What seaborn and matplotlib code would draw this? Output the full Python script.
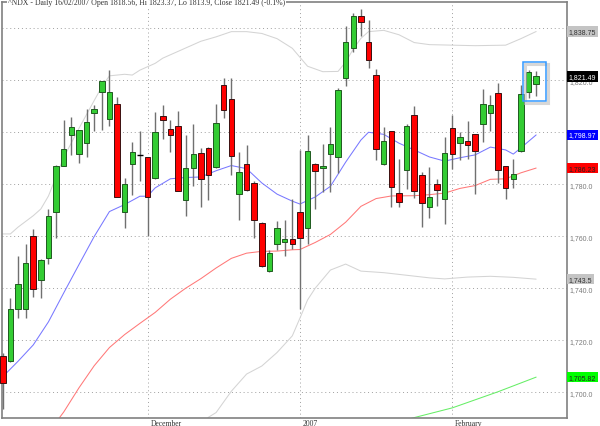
import numpy as np
import matplotlib
matplotlib.use("Agg")
import matplotlib.pyplot as plt
import matplotlib.transforms as mtransforms
from matplotlib.patches import Rectangle
from matplotlib.ticker import FuncFormatter
import seaborn as sns

# ---------------- data ----------------
opens = [1714.0, 1711.9, 1731.9, 1732.2, 1760.0, 1743.0, 1751.5, 1769.2, 1787.2, 1798.8,
         1791.6, 1795.7, 1807.3, 1815.5, 1805.2, 1810.9, 1769.2, 1787.7, 1791.3, 1790.3,
         1782.3, 1806.2, 1801.1, 1802.4, 1773.9, 1786.2, 1792.1, 1793.9, 1786.5, 1818.1,
         1812.9, 1776.4, 1787.7, 1780.3, 1765.1, 1746.6, 1756.9, 1757.7, 1759.0, 1769.3,
         1763.1, 1787.8, 1786.3, 1791.7, 1790.4, 1821.0, 1832.3, 1844.9, 1834.9, 1822.0,
         1787.8, 1800.4, 1776.8, 1785.5, 1806.8, 1783.4, 1771.1, 1780.0, 1774.4, 1801.6,
         1796.0, 1796.5, 1799.3, 1803.2, 1807.3, 1815.2, 1787.0, 1782.1, 1792.9, 1815.5,
         1818.56]
highs = [1715.0, 1736.1, 1752.5, 1756.9, 1762.8, 1751.2, 1770.3, 1787.5, 1804.7, 1805.7,
         1800.8, 1808.8, 1810.6, 1819.9, 1824.0, 1813.7, 1782.6, 1796.4, 1800.3, 1790.5,
         1807.8, 1810.6, 1804.7, 1808.0, 1799.0, 1803.2, 1793.9, 1794.2, 1810.9, 1820.9,
         1820.9, 1792.4, 1795.2, 1781.3, 1765.6, 1754.6, 1765.9, 1766.1, 1774.4, 1793.0,
         1798.9, 1788.0, 1795.3, 1802.2, 1817.1, 1840.8, 1845.7, 1847.5, 1843.1, 1824.3,
         1802.2, 1800.6, 1789.9, 1803.2, 1810.2, 1784.7, 1786.8, 1782.1, 1798.3, 1806.5,
         1800.1, 1804.4, 1799.5, 1816.5, 1814.2, 1819.1, 1787.2, 1789.8, 1818.3, 1824.0,
         1823.37]
lows = [1693.4, 1711.5, 1728.4, 1728.4, 1736.6, 1736.3, 1749.4, 1759.2, 1787.0, 1791.1,
        1788.3, 1790.6, 1800.3, 1800.8, 1802.6, 1775.1, 1763.3, 1775.9, 1781.3, 1760.0,
        1782.0, 1797.5, 1792.4, 1777.3, 1767.9, 1779.5, 1771.3, 1774.1, 1786.3, 1805.5,
        1783.4, 1766.4, 1777.5, 1759.2, 1748.2, 1746.4, 1754.8, 1752.6, 1755.2, 1732.0,
        1757.0, 1770.6, 1777.0, 1777.0, 1784.5, 1817.9, 1830.7, 1837.2, 1824.8, 1789.4,
        1787.6, 1771.4, 1771.4, 1778.3, 1774.7, 1763.4, 1767.2, 1771.8, 1764.6, 1785.7,
        1789.3, 1789.8, 1776.4, 1796.2, 1800.6, 1780.5, 1774.4, 1778.7, 1792.4, 1813.2,
        1813.9]
closes = [1703.7, 1732.2, 1741.5, 1749.7, 1739.9, 1750.7, 1767.7, 1787.2, 1793.6, 1801.9,
          1800.8, 1803.9, 1809.1, 1819.9, 1815.5, 1775.1, 1780.0, 1792.6, 1791.3, 1775.1,
          1800.1, 1804.7, 1799.0, 1777.5, 1786.2, 1791.6, 1782.1, 1783.4, 1803.4, 1808.6,
          1790.8, 1784.9, 1777.7, 1766.1, 1748.4, 1753.5, 1763.1, 1758.9, 1757.0, 1759.3,
          1792.7, 1785.2, 1787.0, 1795.5, 1816.3, 1834.9, 1844.9, 1842.6, 1827.7, 1793.7,
          1796.6, 1779.1, 1773.2, 1802.5, 1777.5, 1772.9, 1775.2, 1777.7, 1792.1, 1791.6,
          1798.0, 1795.2, 1792.9, 1810.9, 1810.4, 1785.4, 1778.5, 1783.9, 1814.7, 1823.2,
          1821.49]

# month tick positions (trading-day index) and labels
month_idx = [19, 39, 59]
month_labels = ["December", "2007", "February"]

# indicator lines (trading-day index, value)
blue_idx = [0, 2, 4, 6, 8, 10, 12, 14, 16, 18, 19, 20, 22, 24, 26, 28, 30, 32, 34, 36, 38, 39,
            41, 43, 45, 47, 48, 50, 52, 54, 56, 58, 60, 62, 64, 66, 67, 68, 70]
blue_val = [1706.0, 1711.9, 1718.2, 1727.1, 1738.2, 1749.1, 1759.9, 1769.5, 1772.2, 1775.4,
            1775.4, 1778.6, 1782.1, 1782.6, 1782.8, 1785.2, 1787.2, 1786.0, 1780.5, 1776.2,
            1773.5, 1772.4, 1775.1, 1779.2, 1788.5, 1797.0, 1800.0, 1799.2, 1795.8, 1793.2,
            1790.5, 1788.9, 1790.2, 1791.3, 1794.3, 1793.2, 1791.6, 1794.0, 1798.97]

red_idx = [7, 8, 10, 12, 14, 16, 18, 20, 22, 24, 26, 28, 30, 32, 34, 36, 38, 39, 41, 43, 45,
           47, 49, 51, 54, 56, 58, 60, 62, 64, 66, 68, 70]
red_val = [1688.5, 1692.4, 1701.7, 1710.2, 1717.2, 1722.2, 1726.5, 1730.7, 1735.8, 1740.0,
           1743.7, 1747.8, 1751.5, 1753.5, 1754.2, 1754.3, 1754.8, 1754.9, 1757.6, 1760.7,
           1765.4, 1771.5, 1774.5, 1775.5, 1775.6, 1776.0, 1776.6, 1778.4, 1779.5, 1781.9,
           1782.1, 1784.4, 1786.23]

upper_idx = [0, 1, 2, 4, 5, 6, 8, 10, 12, 13, 14, 16, 17, 18, 20, 21, 26, 28, 30, 32, 34, 36,
             38, 40, 42, 44, 45, 46, 47, 48, 50, 52, 54, 56, 62, 66, 68, 70]
upper_val = [1760.9, 1760.9, 1763.5, 1767.9, 1770.5, 1775.5, 1790.3, 1801.5, 1812.2, 1817.5,
             1821.7, 1822.3, 1822.0, 1823.9, 1826.5, 1828.5, 1835.0, 1836.7, 1838.7, 1838.7,
             1838.0, 1836.0, 1832.3, 1825.4, 1823.3, 1823.4, 1827.0, 1832.0, 1836.1, 1838.7,
             1839.2, 1837.5, 1834.5, 1833.7, 1833.3, 1833.5, 1836.0, 1838.75]

lower_idx = [26, 27, 28, 30, 32, 34, 36, 38, 39, 40, 41, 43, 45, 47, 50, 53, 56, 58, 61, 64,
             67, 70]
lower_val = [1687.0, 1690.4, 1692.2, 1700.4, 1707.0, 1710.1, 1715.3, 1721.7, 1728.5, 1735.5,
             1740.0, 1747.0, 1749.3, 1746.6, 1746.0, 1745.0, 1744.0, 1743.6, 1744.3, 1744.6,
             1744.2, 1743.5]

green_idx = [53, 55, 59, 65, 70]
green_val = [1689.5, 1691.0, 1694.0, 1700.2, 1705.82]

title = "^NDX - Daily 16/02/2007 Open 1818.56, Hi 1823.37, Lo 1813.9, Close 1821.49 (-0.1%)"

# ---------------- plotting ----------------
sns.set_theme(style="white")
plt.rcParams["font.family"] = ["Liberation Sans", "DejaVu Sans"]

fig = plt.figure(figsize=(6, 4.27), dpi=100)
ax = fig.add_axes([2 / 600, 8 / 427, 565 / 600, 416 / 427])
ax.set_facecolor("white")

o = np.array(opens); h = np.array(highs); l = np.array(lows); c = np.array(closes)
idx = np.arange(len(o))

# indicator lines
line_specs = [
    (upper_idx, upper_val, "#d4d4d4"),
    (lower_idx, lower_val, "#d4d4d4"),
    (green_idx, green_val, "#66ee66"),
    (red_idx, red_val, "#ff7878"),
    (blue_idx, blue_val, "#7878ff"),
]
for xs, ys, col in line_specs:
    sns.lineplot(x=xs, y=ys, ax=ax, color=col, linewidth=0.75, zorder=1.5)

# wicks
ax.vlines(idx, l, h, color="#707070", linewidth=1.0, zorder=2, clip_on=False)
# bodies
up = c > o
down = c < o
flat = c == o
bottoms = np.minimum(o, c)
heights = np.abs(c - o)
ax.bar(idx[up], heights[up], bottom=bottoms[up], width=0.72, color="#33cc33",
       edgecolor="#1f5a1f", linewidth=0.7, zorder=3, clip_on=False)
ax.bar(idx[down], heights[down], bottom=bottoms[down], width=0.72, color="#ff0000",
       edgecolor="#3a1010", linewidth=0.7, zorder=3, clip_on=False)
ax.hlines(c[flat], idx[flat] - 0.36, idx[flat] + 0.36, color="black", linewidth=1.0, zorder=3)

# highlight box around the last two sessions
x0 = idx[-2] - 0.75
x1 = idx[-1] + 1.25
y0 = min(l[-2:]) - 1.0
y1 = max(h[-2:]) + 3.2
ax.add_patch(Rectangle((x0 + 0.35, y0 - 1.0), x1 - x0, y1 - y0, fill=False,
                       edgecolor="#bdbdbd", linewidth=2.2, alpha=0.6, zorder=3.5))
ax.add_patch(Rectangle((x0, y0), x1 - x0, y1 - y0, fill=False,
                       edgecolor="#3399ff", linewidth=1.1, zorder=4))

# axes limits
ax.set_xlim(-0.1, 74.05)
ax.set_ylim(1690.1, 1850.1)

# y axis on the right
ax.yaxis.tick_right()
ax.set_yticks(np.arange(1700, 1841, 20))
ax.yaxis.set_major_formatter(FuncFormatter(lambda v, p: f"{v:,.1f}"))
ax.tick_params(axis="y", length=0, pad=1.5, labelsize=5, labelcolor="#7a7a7a")

# x axis month ticks
ax.set_xticks(month_idx)
ax.set_xticklabels(month_labels, fontsize=5.5, family="Liberation Serif", color="#333333", ha="left")
ax.tick_params(axis="x", length=3, width=0.8, color="#808080", direction="out", pad=-2.2)
offset = mtransforms.ScaledTranslation(2 / 72, 0, fig.dpi_scale_trans)
for lab in ax.get_xticklabels():
    lab.set_transform(lab.get_transform() + offset)

ax.grid(True, which="major", axis="both", linestyle=(0, (1, 3)), color="#a0a0a0", linewidth=0.7)
ax.set_axisbelow(True)

for s in ax.spines.values():
    s.set_visible(True)
    s.set_color("#808080")
    s.set_linewidth(1.2)

ax.set_xlabel("")
ax.set_ylabel("")

# last-value tags on the right
trans = mtransforms.blended_transform_factory(ax.transAxes, ax.transData)
tags = [
    (upper_val[-1], "#c4c4c4", "#333333"),
    (closes[-1], "#000000", "#ffffff"),
    (blue_val[-1], "#0000ff", "#ffffff"),
    (red_val[-1], "#ff0000", "#222222"),
    (lower_val[-1], "#c4c4c4", "#333333"),
    (green_val[-1], "#00ff00", "#222222"),
]
for val, fc, tc in tags:
    txt = f"{val:,.2f}"
    if txt.endswith("0"):
        txt = txt[:-1]
    ax.text(1.003, val, txt, transform=trans, ha="left", va="center", fontsize=5,
            color=tc, zorder=10, clip_on=False,
            bbox=dict(boxstyle="square,pad=0.25", fc=fc, ec="none"))

# title sitting on the top frame line
fig.text(8 / 600, 1 - 3 / 427, title, ha="left", va="center", fontsize=5.6,
         family="Liberation Serif", color="#333333",
         bbox=dict(boxstyle="square,pad=0.15", fc="white", ec="none"))

fig.savefig("out.png", dpi=100, facecolor="white")
